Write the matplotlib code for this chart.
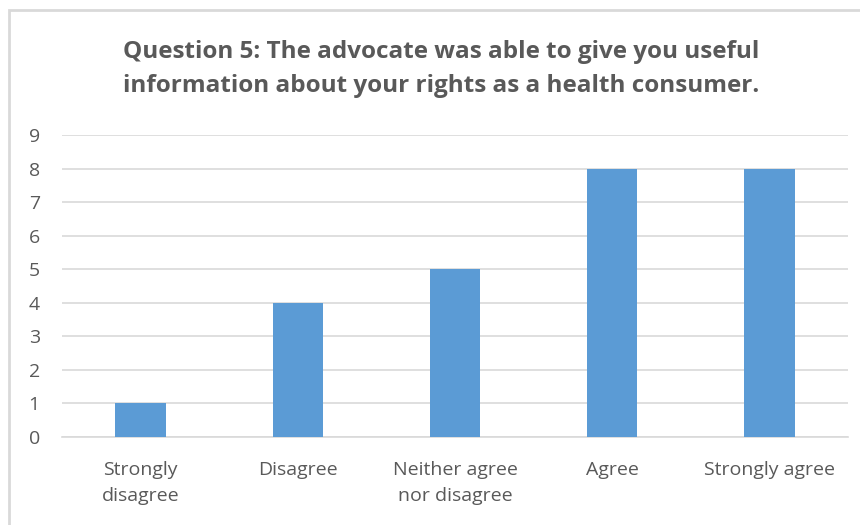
import matplotlib.pyplot as plt
from matplotlib.patches import Rectangle

categories = ["Strongly\ndisagree", "Disagree", "Neither agree\nnor disagree", "Agree", "Strongly agree"]
counts = [1, 4, 5, 8, 8]
y_ticks = list(range(0, 10))

TITLE = "Question 5: The advocate was able to give you useful\ninformation about your rights as a health consumer."
TEXT = "#595959"
GRID = "#D9D9D9"
BAR = "#5B9BD5"

plt.rcParams["font.family"] = ["Open Sans", "DejaVu Sans"]

fig = plt.figure(figsize=(8.6, 5.25), dpi=100)
ax = fig.add_axes([62 / 860, 1 - 437 / 525, 786 / 860, 302 / 525])

x = list(range(len(categories)))
ax.bar(x, counts, width=0.32, color=BAR, zorder=3)

ax.set_xlim(-0.5, len(categories) - 0.5)
ax.set_ylim(0, 9)
ax.set_yticks(y_ticks)
ax.set_xticks(x)
ax.set_xticklabels(categories, fontsize=14, color=TEXT, linespacing=1.6)
ax.tick_params(axis="y", labelsize=14, labelcolor=TEXT, length=0, pad=16)
ax.tick_params(axis="x", length=0, pad=17)
ax.grid(axis="y", color=GRID, linewidth=1.2, zorder=0)
for side in ["top", "right", "left"]:
    ax.spines[side].set_visible(False)
ax.spines["bottom"].set_color(GRID)
ax.spines["bottom"].set_linewidth(1.2)

fig.text(0.513, 1 - 69 / 525, TITLE, ha="center", va="center", fontsize=17.5,
         fontweight="bold", color=TEXT, linespacing=1.5)

# light chart frame, clipped at the right and bottom edges
fig.patches.append(Rectangle((9 / 860, -0.1), 1.2, 1 - 10 / 525 + 0.1,
                             transform=fig.transFigure, fill=False,
                             edgecolor=GRID, linewidth=2))

fig.savefig("out.png", dpi=100)
